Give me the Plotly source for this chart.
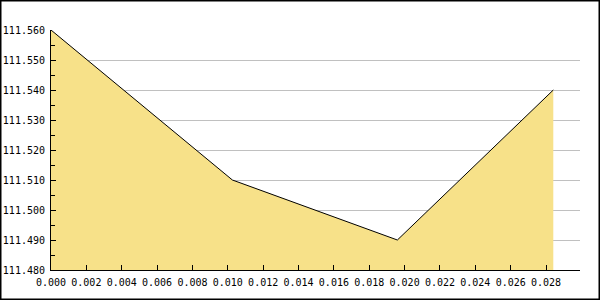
import plotly.graph_objects as go

x_vals = [0.0, 0.01026, 0.01959, 0.02841]
y_vals = [111.56, 111.51, 111.49, 111.54]

W, H = 600, 300
ML, MR, MT, MB = 51, 20, 30, 30
pw, ph = W - ML - MR, H - MT - MB

fig = go.Figure()
fig.add_trace(go.Scatter(
    x=x_vals, y=y_vals, mode="lines",
    line=dict(color="black", width=1),
    fill="tozeroy", fillcolor="#F7E189",
    hoverinfo="skip",
))

font = dict(family="DejaVu Sans Mono", size=10, color="black")

fig.update_layout(
    width=W, height=H,
    margin=dict(l=ML, r=MR, t=MT, b=MB, autoexpand=False),
    paper_bgcolor="white", plot_bgcolor="white",
    showlegend=False,
    font=font,
    xaxis=dict(
        range=[0, 0.02992], tick0=0, dtick=0.002, tickformat=".3f",
        ticks="inside", ticklen=5, tickcolor="black",
        showline=True, linecolor="black", linewidth=1,
        showgrid=False, zeroline=False, tickfont=font,
        automargin=False, ticklabelstandoff=3,
    ),
    yaxis=dict(
        range=[111.48, 111.56], tick0=111.48, dtick=0.01, tickformat=".3f",
        ticks="inside", ticklen=5, tickcolor="black",
        minor=dict(ticks="inside", ticklen=4, dtick=0.005, tickcolor="black", showgrid=False),
        showline=True, linecolor="black", linewidth=1,
        showgrid=True, gridcolor="#C0C0C0", gridwidth=1,
        zeroline=False, tickfont=font, ticklabelstandoff=3,
        automargin=False,
    ),
)

fig.add_shape(
    type="rect", xref="paper", yref="paper",
    x0=(0.5 - ML) / pw, x1=(W - 0.5 - ML) / pw,
    y0=-(H - 0.5 - MT - ph) / ph, y1=(ph + MT - 0.5) / ph,
    line=dict(color="black", width=2), fillcolor="rgba(0,0,0,0)", layer="above",
)

fig.write_html("out.html")
